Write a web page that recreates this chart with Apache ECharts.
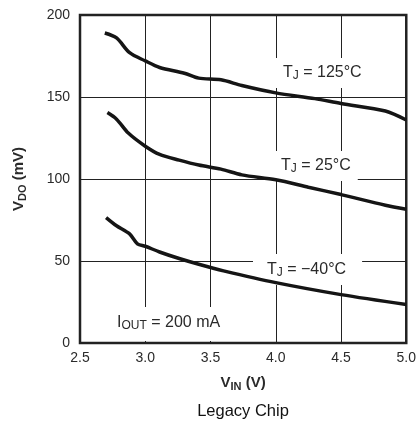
<!DOCTYPE html>
<html><head><meta charset="utf-8">
<script src="https://cdn.jsdelivr.net/npm/echarts@6/dist/echarts.min.js"></script>
<style>html,body{margin:0;padding:0;background:#fff}#c{width:419px;height:430px}</style>
</head><body><div id="c"></div>
<script>
const xTicks = [2.5, 3.0, 3.5, 4.0, 4.5, 5.0];
const yTicks = [0, 50, 100, 150, 200];
const vin125 = [2.69, 2.78, 2.88, 3.0, 3.11, 3.30, 3.41, 3.58, 3.74, 4.0, 4.30, 4.5, 4.84, 5.0];
const vdo125 = [189, 186, 177, 172, 168, 164.5, 161.5, 160.5, 157, 152.5, 149, 146, 141.5, 136];
const vin25 = [2.71, 2.78, 2.87, 3.0, 3.11, 3.26, 3.41, 3.58, 3.74, 4.0, 4.25, 4.5, 4.84, 5.0];
const vdo25 = [140.5, 136.5, 128, 120, 115, 111.5, 108.5, 106, 102.5, 99.5, 95, 90.5, 84, 81.5];
const vinM40 = [2.7, 2.78, 2.88, 2.94, 3.0, 3.11, 3.26, 3.41, 3.6, 4.0, 4.5, 5.0];
const vdoM40 = [76.5, 71.5, 66.5, 60.5, 59, 55.5, 51.5, 48, 44, 36.8, 29.5, 23.5];
const curveLabels = ['125°C', '25°C', '−40°C'];
const title = 'Legacy Chip';

const font = 'Arial, "Liberation Sans", sans-serif';
const txtColor = '#2a2a2a';
const pair = (xs, ys) => xs.map((x, i) => [x, ys[i]]);
const sub = { fontSize: 12, verticalAlign: 'bottom', lineHeight: 12, fontFamily: font, fill: txtColor };
const main = { fontSize: 16, lineHeight: 19, fontFamily: font, fill: txtColor };

function lineSeries(xs, ys) {
  return {
    type: 'line', data: pair(xs, ys), smooth: 0.3, symbol: 'none', z: 3,
    lineStyle: { color: '#151515', width: 3.5 }
  };
}
function boxLabel(x, y, txt, pad) {
  return {
    type: 'text', left: x, top: y, z: 1,
    style: {
      text: txt,
      rich: { m: Object.assign({}, main), s: Object.assign({}, sub) },
      fill: txtColor, backgroundColor: '#fff', padding: pad
    }
  };
}
const nameRich = {
  b: { fontFamily: font, fontSize: 15, fontWeight: 'bold', color: txtColor, lineHeight: 18 },
  bs: { fontFamily: font, fontSize: 11, fontWeight: 'bold', color: txtColor, verticalAlign: 'bottom', lineHeight: 11 }
};

const chart = echarts.init(document.getElementById('c'), null, { renderer: 'canvas' });
chart.setOption({
  animation: false,
  backgroundColor: '#fff',
  grid: {
    left: 80, right: 11, top: 15, bottom: 87, show: true,
    borderColor: '#222', borderWidth: 2.5, backgroundColor: 'transparent'
  },
  xAxis: {
    type: 'value', min: xTicks[0], max: xTicks[xTicks.length - 1], interval: 0.5,
    axisLine: { show: false }, axisTick: { show: false },
    splitLine: { show: true, lineStyle: { color: '#222', width: 1 } },
    axisLabel: { formatter: v => v.toFixed(1), fontFamily: font, fontSize: 14, color: txtColor, margin: 8 },
    name: '{b|V}{bs|IN}{b| (V)}', nameLocation: 'middle', nameGap: 31,
    nameTextStyle: { rich: nameRich }
  },
  yAxis: {
    type: 'value', min: yTicks[0], max: yTicks[yTicks.length - 1], interval: 50,
    axisLine: { show: false }, axisTick: { show: false },
    splitLine: { show: true, lineStyle: { color: '#222', width: 1 } },
    axisLabel: { fontFamily: font, fontSize: 14, color: txtColor, margin: 10 },
    name: '{b|V}{bs|DO}{b| (mV)}', nameLocation: 'middle', nameGap: 52, nameRotate: 90,
    nameTextStyle: { rich: nameRich }
  },
  graphic: [
    boxLabel(276, 58, '{m|T}{s|J}{m| = ' + curveLabels[0] + '}', [5, 7, 6, 7]),
    boxLabel(274, 151, '{m|T}{s|J}{m| = ' + curveLabels[1] + '}', [5, 7, 6, 7]),
    boxLabel(253, 254, '{m|T}{s|J}{m| = ' + curveLabels[2] + '}', [6, 16, 6, 14]),
    boxLabel(111, 307, '{m|I}{s|OUT}{m| = 200 mA}', [6, 7, 9, 6]),
    {
      type: 'text', x: 243, y: 411, z: 1,
      style: { text: title, fontFamily: font, fontSize: 16.5, fill: '#111', align: 'center', verticalAlign: 'middle' }
    }
  ],
  series: [lineSeries(vin125, vdo125), lineSeries(vin25, vdo25), lineSeries(vinM40, vdoM40)]
});
</script></body></html>
